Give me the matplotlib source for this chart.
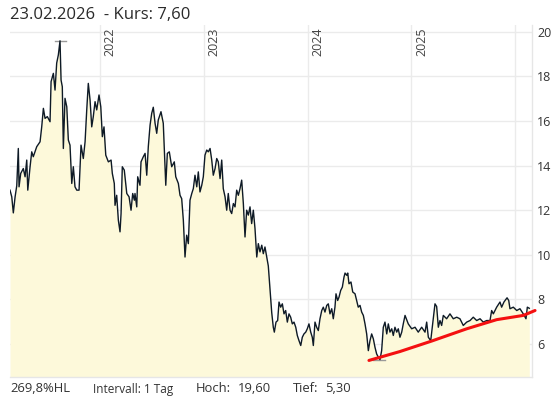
import matplotlib
matplotlib.use("Agg")
import matplotlib.pyplot as plt
import numpy as np

plt.rcParams['font.family'] = ['Open Sans', 'DejaVu Sans']

# price series (decimal year, price in EUR)
years = [
    2021.139, 2021.156, 2021.171, 2021.188, 2021.204, 2021.219, 2021.226, 2021.242,
    2021.267, 2021.284, 2021.300, 2021.310, 2021.332, 2021.348, 2021.363, 2021.396,
    2021.428, 2021.444, 2021.460, 2021.476, 2021.498, 2021.524, 2021.534, 2021.556,
    2021.572, 2021.588, 2021.604, 2021.620, 2021.630, 2021.642, 2021.652, 2021.668,
    2021.685, 2021.700, 2021.716, 2021.733, 2021.748, 2021.764, 2021.781, 2021.803,
    2021.822, 2021.844, 2021.861, 2021.877, 2021.892, 2021.909, 2021.925, 2021.940,
    2021.957, 2021.973, 2021.995, 2022.012, 2022.027, 2022.043, 2022.060, 2022.085,
    2022.111, 2022.123, 2022.142, 2022.149, 2022.165, 2022.181, 2022.197, 2022.207,
    2022.219, 2022.238, 2022.262, 2022.284, 2022.303, 2022.319, 2022.335, 2022.341,
    2022.358, 2022.367, 2022.389, 2022.399, 2022.421, 2022.438, 2022.454, 2022.469,
    2022.486, 2022.502, 2022.517, 2022.534, 2022.550, 2022.565, 2022.591, 2022.613,
    2022.637, 2022.652, 2022.671, 2022.694, 2022.719, 2022.733, 2022.758, 2022.774,
    2022.790, 2022.806, 2022.822, 2022.838, 2022.854, 2022.870, 2022.887, 2022.902,
    2022.918, 2022.935, 2022.950, 2022.966, 2022.983, 2022.998, 2023.014, 2023.031,
    2023.046, 2023.063, 2023.079, 2023.094, 2023.111, 2023.127, 2023.142, 2023.159,
    2023.175, 2023.190, 2023.207, 2023.223, 2023.238, 2023.255, 2023.271, 2023.287,
    2023.303, 2023.319, 2023.335, 2023.351, 2023.367, 2023.383, 2023.399, 2023.415,
    2023.431, 2023.447, 2023.463, 2023.479, 2023.495, 2023.512, 2023.527, 2023.543,
    2023.560, 2023.575, 2023.591, 2023.608, 2023.623, 2023.639, 2023.656, 2023.671,
    2023.681, 2023.697, 2023.713, 2023.726, 2023.742, 2023.758, 2023.774, 2023.790,
    2023.806, 2023.822, 2023.838, 2023.854, 2023.870, 2023.887, 2023.902, 2023.918,
    2023.935, 2023.950, 2023.966, 2023.983, 2023.998, 2024.014, 2024.031, 2024.046,
    2024.056, 2024.072, 2024.088, 2024.104, 2024.120, 2024.137, 2024.152, 2024.168,
    2024.185, 2024.200, 2024.216, 2024.233, 2024.248, 2024.264, 2024.274, 2024.290,
    2024.303, 2024.319, 2024.335, 2024.351, 2024.361, 2024.377, 2024.387, 2024.399,
    2024.418, 2024.435, 2024.457, 2024.473, 2024.488, 2024.505, 2024.521, 2024.537,
    2024.553, 2024.569, 2024.585, 2024.601, 2024.617, 2024.633, 2024.649, 2024.665,
    2024.681, 2024.697, 2024.713, 2024.729, 2024.745, 2024.762, 2024.777, 2024.793,
    2024.810, 2024.825, 2024.841, 2024.858, 2024.873, 2024.889, 2024.906, 2024.921,
    2024.938, 2024.969, 2025.002, 2025.034, 2025.065, 2025.098, 2025.130, 2025.146,
    2025.162, 2025.185, 2025.204, 2025.226, 2025.242, 2025.258, 2025.274, 2025.290,
    2025.306, 2025.338, 2025.370, 2025.402, 2025.435, 2025.466, 2025.498, 2025.531,
    2025.563, 2025.594, 2025.627, 2025.659, 2025.690, 2025.723, 2025.755, 2025.771,
    2025.787, 2025.819, 2025.851, 2025.867, 2025.889, 2025.919, 2025.935, 2025.947,
    2025.979, 2026.012, 2026.043, 2026.075, 2026.101, 2026.114, 2026.133,
]
prices = [
    12.90, 12.60, 11.88, 12.60, 13.10, 14.77, 13.05, 13.65,
    13.87, 13.50, 14.25, 12.90, 13.95, 14.62, 14.40, 14.85,
    15.07, 15.74, 16.57, 16.12, 16.20, 15.97, 17.77, 18.14,
    17.39, 18.60, 18.97, 19.60, 17.84, 17.54, 14.77, 17.02,
    16.64, 15.15, 14.92, 13.20, 13.95, 13.05, 12.90, 12.90,
    14.92, 14.32, 15.07, 16.50, 17.69, 16.94, 15.74, 16.20,
    16.87, 16.50, 17.17, 16.64, 15.30, 15.74, 14.47, 14.17,
    14.25, 13.65, 13.20, 12.22, 12.67, 11.55, 11.03, 11.85,
    13.95, 13.80, 12.75, 12.60, 12.00, 12.75, 12.45, 12.75,
    12.15, 13.50, 13.12, 14.17, 14.40, 14.55, 13.57, 14.85,
    15.82, 16.35, 16.62, 15.90, 15.45, 16.05, 16.42, 15.90,
    13.12, 14.55, 14.62, 13.95, 14.17, 13.50, 13.20, 12.67,
    12.52, 11.55, 9.90, 10.88, 10.50, 12.45, 12.75, 12.97,
    13.57, 13.05, 13.72, 12.82, 13.12, 13.50, 14.47, 14.70,
    14.62, 14.77, 14.25, 13.57, 13.87, 14.32, 14.17, 13.42,
    14.25, 12.97, 12.60, 12.00, 12.75, 12.00, 11.85, 12.30,
    12.15, 12.90, 12.67, 12.97, 13.35, 12.30, 10.80, 12.00,
    11.78, 12.15, 11.40, 12.00, 11.18, 9.90, 10.50, 10.13,
    10.43, 10.05, 10.35, 9.90, 9.50, 8.50, 7.40, 6.75,
    6.53, 6.98, 7.05, 7.88, 7.65, 7.80, 7.35, 7.50,
    6.98, 7.35, 7.20, 6.90, 6.98, 6.75, 6.38, 6.15,
    5.93, 6.30, 6.45, 6.53, 6.68, 6.90, 6.53, 6.30,
    5.93, 6.98, 6.75, 6.60, 7.13, 7.50, 7.65, 7.43,
    7.73, 7.80, 7.35, 7.58, 7.13, 7.65, 8.25, 7.95,
    8.10, 8.40, 8.55, 9.00, 9.18, 9.08, 9.18, 8.70,
    8.78, 8.33, 8.25, 7.95, 7.65, 7.73, 7.43, 7.28,
    6.90, 6.45, 5.70, 6.15, 6.45, 6.23, 5.85, 5.55,
    5.41, 5.30, 5.70, 6.75, 6.98, 6.45, 6.90, 6.53,
    6.68, 6.38, 6.75, 6.53, 6.68, 6.30, 6.53, 6.90,
    7.28, 6.90, 6.68, 6.75, 6.53, 6.75, 6.53, 6.98,
    6.30, 6.15, 6.90, 7.80, 7.68, 6.75, 7.05, 6.83,
    7.28, 7.13, 7.35, 7.13, 7.20, 7.13, 6.83, 6.98,
    7.05, 7.20, 7.05, 7.13, 6.98, 7.05, 7.05, 7.50,
    7.35, 7.65, 7.88, 7.65, 7.88, 8.07, 7.95, 7.58,
    7.65, 7.50, 7.58, 7.35, 7.13, 7.65, 7.60,
]

# red trend line from the 2024 low
trend_years = [2024.591, 2024.889, 2025.194, 2025.531, 2025.819, 2026.075, 2026.188]
trend_prices = [5.26, 5.66, 6.13, 6.68, 7.09, 7.28, 7.50]

high_val, high_year = 19.60, 2021.625
low_val, low_year = 5.30, 2024.690
year_ticks = [2022, 2023, 2024, 2025, 2026]
year_labels = ['2022', '2023', '2024', '2025', '']
y_ticks = [6, 8, 10, 12, 14, 16, 18, 20]

title_date = '23.02.2026'
title_kurs = '  - Kurs: 7,60'
# footer: text, x pixel, font size
footer = [('269,8%HL', 10, 9.4), ('Intervall: 1 Tag', 93, 8.5), ('Hoch:', 196, 9.4),
          ('19,60', 238, 9.4), ('Tief:', 293, 9.4), ('5,30', 325, 9.4)]

W, H = 558, 398
fig = plt.figure(figsize=(W / 100, H / 100), dpi=100)
ax = fig.add_axes([10 / W, 1 - 377 / H, 521.7 / W, 352 / H])

ymin, ymax = 4.517, 20.31
ax.set_xlim(2021.139, 2026.156)
ax.set_ylim(ymin, ymax)

ax.fill_between(years, prices, ymin, color='#fdf9da', lw=0, zorder=1)
ax.plot(years, prices, color='#0e1a26', lw=1.0, zorder=3)
ax.plot(trend_years, trend_prices, color='#f41010', lw=2.2, zorder=4,
        clip_on=False, solid_capstyle='round')

# high / low markers
ax.plot([high_year - 0.053, high_year + 0.053], [high_val, high_val], color='#9a9a9a', lw=1, zorder=2)
ax.plot([low_year - 0.06, low_year + 0.06], [low_val, low_val], color='#9a9a9a', lw=1, zorder=2)

ax.set_xticks(year_ticks)
ax.set_xticklabels([])
ax.set_yticks(y_ticks)
ax.yaxis.tick_right()
ax.tick_params(axis='both', length=0)
ax.tick_params(axis='y', pad=4, labelsize=9, labelcolor='#333333')
ax.grid(True, color='#ebebeb', lw=1, zorder=0)
ax.set_axisbelow(True)
for s in ['top', 'left']:
    ax.spines[s].set_visible(False)
for s in ['right', 'bottom']:
    ax.spines[s].set_color('#e6e6e6')
    ax.spines[s].set_linewidth(1)

for yr, lab in zip(year_ticks, year_labels):
    ax.annotate(lab, (yr, ymax), xytext=(3, -2), textcoords='offset points',
                rotation=90, ha='left', va='top', fontsize=9, color='#444444')

fig.text(10 / W, 1 - 15 / H, title_date + title_kurs, fontsize=12, color='#2a2a2a',
         ha='left', va='center')
for txt, xp, fs in footer:
    fig.text(xp / W, 1 - 389 / H, txt, fontsize=fs, color='#333333', ha='left', va='center')

fig.savefig('out.png', dpi=100)
